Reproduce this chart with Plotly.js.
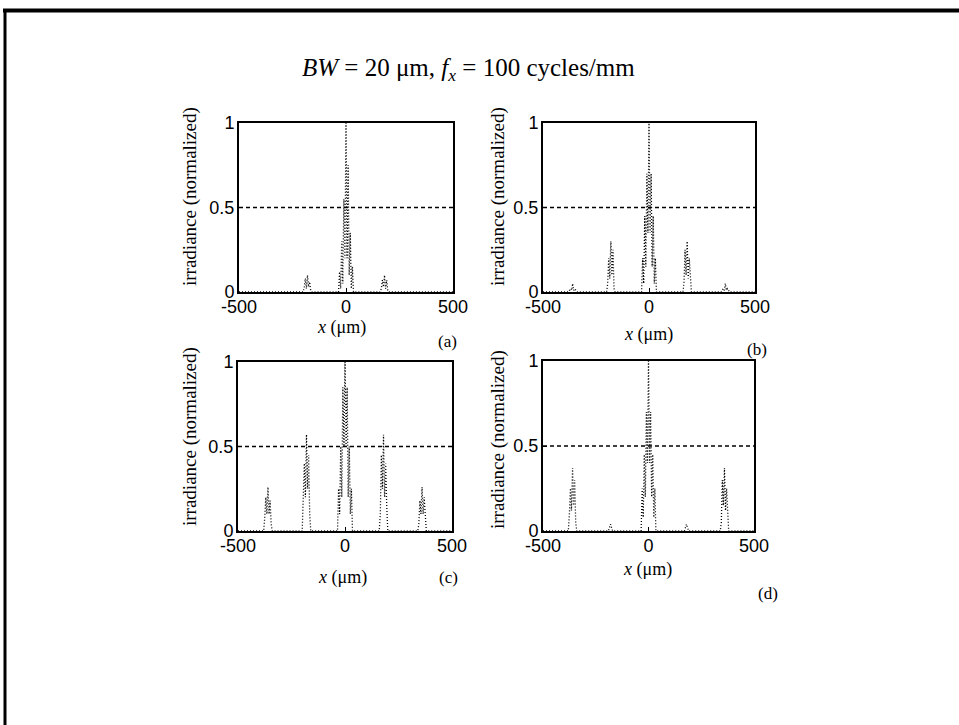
<!DOCTYPE html>
<html>
<head>
<meta charset="utf-8">
<script src="https://cdn.plot.ly/plotly-3.0.1.min.js"></script>
<style>html,body{margin:0;padding:0;background:#fff;}#chart{width:959px;height:725px;}</style>
</head>
<body>
<div id="chart"></div>
<script>
// ---- data ----
const panelLabels = ['(a)', '(b)', '(c)', '(d)'];
const titleText = '<i>BW</i> = 20 μm, <i>f</i><sub><i>x</i></sub> = 100 cycles/mm';
const yTitle = 'irradiance (normalized)';
const xTitle = '<i>x</i> (μm)';
const xTickVals = [-500, 0, 500];
const xTickText = ['-500', '0', '500'];
const yTickVals = [0, 0.5, 1];
const yTickText = ['0', '0.5', '1'];
const thresholdX = [-500, 500];
const thresholdY = [0.5, 0.5];

// panel (a)
const xa = [-500,-200,-195,-190,-185,-180,-175,-170,-165,-160,
            -35,-30,-25,-20,-15,-10,-5,0,5,10,15,20,25,30,35,
            160,165,170,175,180,185,190,195,200,500];
const ya = [0,0,0.03,0.08,0.02,0.10,0.03,0.06,0.01,0,
            0,0.12,0.02,0.30,0.05,0.55,0.20,1.00,0.20,0.75,0.10,0.35,0.02,0.15,0,
            0,0.02,0.07,0.03,0.10,0.02,0.07,0.01,0,0];
// panel (b)
const xb = [-500,-380,-370,-365,-360,-355,-350,-340,
            -200,-195,-190,-185,-180,-175,-170,-165,-160,
            -35,-30,-25,-20,-15,-10,-5,0,5,10,15,20,25,30,35,
            160,165,170,175,180,185,190,195,200,
            340,350,355,360,365,370,380,500];
const yb = [0,0,0.02,0.01,0.05,0.01,0.02,0,
            0,0.05,0.20,0.08,0.30,0.10,0.25,0.02,0,
            0,0.20,0.05,0.45,0.15,0.70,0.35,1.00,0.35,0.70,0.15,0.45,0.05,0.20,0,
            0,0.05,0.25,0.10,0.30,0.08,0.20,0.05,0,
            0,0.02,0.01,0.05,0.01,0.02,0,0];
// panel (c)
const xc = [-500,-380,-375,-370,-365,-360,-355,-350,-345,-340,
            -200,-195,-190,-185,-180,-175,-170,-165,-160,
            -35,-30,-25,-20,-15,-10,-5,0,5,10,15,20,25,30,35,
            160,165,170,175,180,185,190,195,200,
            340,345,350,355,360,365,370,375,380,500];
const yc = [0,0,0.08,0.20,0.10,0.26,0.10,0.18,0.04,0,
            0,0.15,0.40,0.20,0.57,0.25,0.45,0.10,0,
            0,0.25,0.10,0.50,0.20,0.85,0.50,1.00,0.50,0.85,0.20,0.50,0.10,0.25,0,
            0,0.10,0.45,0.25,0.57,0.20,0.40,0.15,0,
            0,0.04,0.18,0.10,0.26,0.10,0.20,0.08,0,0];
// panel (d)
const xd = [-500,-380,-375,-370,-365,-360,-355,-350,-345,-340,
            -190,-185,-180,-175,-170,
            -35,-30,-25,-20,-15,-10,-5,0,5,10,15,20,25,30,35,
            170,175,180,185,190,
            340,345,350,355,360,365,370,375,380,500];
const yd = [0,0,0.10,0.25,0.12,0.37,0.15,0.30,0.05,0,
            0,0.02,0.04,0.02,0,
            0,0.25,0.08,0.45,0.20,0.70,0.40,1.00,0.40,0.70,0.20,0.45,0.08,0.25,0,
            0,0.02,0.04,0.02,0,
            0,0.05,0.30,0.15,0.37,0.12,0.25,0.10,0,0];

const seriesX = [xa, xb, xc, xd];
const seriesY = [ya, yb, yc, yd];

// ---- layout geometry (pixels in a 959x725 page) ----
const W = 959, H = 725;
const boxes = [
  {l: 239, r: 453, t: 123, b: 292},
  {l: 543, r: 755, t: 123, b: 292},
  {l: 238, r: 452, t: 362, b: 531},
  {l: 543, r: 754, t: 361, b: 531}
];
const xTitlePos = [[341, 327], [648, 334], [342, 577], [647, 569]];
const yTitlePos = [[190, 197], [498, 197], [190, 437], [498, 440]];
const labelPos = [[447, 341], [757, 349], [448, 577], [768, 593]];

const px = v => v / W;
const py = v => 1 - v / H;

const serif = 'Liberation Serif, Times New Roman, serif';
const sans = 'Liberation Sans, Arial, sans-serif';

const traces = [];
const layout = {
  width: W, height: H,
  margin: {l: 0, r: 0, t: 0, b: 0},
  paper_bgcolor: '#fff', plot_bgcolor: '#fff',
  showlegend: false,
  annotations: [],
  shapes: []
};

boxes.forEach((bx, i) => {
  const n = i + 1;
  const xk = n === 1 ? 'x' : 'x' + n;
  const yk = n === 1 ? 'y' : 'y' + n;
  const common = {
    showline: true, mirror: true, linewidth: 2, linecolor: '#000',
    showgrid: false, zeroline: false, ticks: 'inside', ticklen: 4,
    tickwidth: 1, tickcolor: '#000', fixedrange: true,
    tickfont: {family: sans, size: 18, color: '#000'}
  };
  layout['xaxis' + (n === 1 ? '' : n)] = Object.assign({}, common, {
    domain: [px(bx.l), px(bx.r)], anchor: yk, range: [-500, 500],
    tickmode: 'array', tickvals: xTickVals, ticktext: xTickText,
    ticklabelstandoff: -3
  });
  layout['yaxis' + (n === 1 ? '' : n)] = Object.assign({}, common, {
    domain: [py(bx.b), py(bx.t)], anchor: xk, range: [0, 1],
    tickmode: 'array', tickvals: yTickVals, ticktext: yTickText,
    ticklabelstandoff: -1
  });
  traces.push({
    x: seriesX[i], y: seriesY[i], xaxis: xk, yaxis: yk,
    type: 'scatter', mode: 'lines', hoverinfo: 'skip',
    line: {color: '#000', width: 1.3, dash: '1px,2px'}
  });
  traces.push({
    x: thresholdX, y: thresholdY, xaxis: xk, yaxis: yk,
    type: 'scatter', mode: 'lines', hoverinfo: 'skip',
    line: {color: '#000', width: 1.6, dash: '4px,3px'}
  });
  layout.annotations.push({
    xref: 'paper', yref: 'paper', x: px(xTitlePos[i][0]), y: py(xTitlePos[i][1]),
    text: xTitle, showarrow: false, xanchor: 'center', yanchor: 'middle',
    font: {family: serif, size: 18, color: '#000'}
  });
  layout.annotations.push({
    xref: 'paper', yref: 'paper', x: px(yTitlePos[i][0]), y: py(yTitlePos[i][1]),
    text: yTitle, showarrow: false, textangle: -90, xanchor: 'center', yanchor: 'middle',
    font: {family: serif, size: 19, color: '#000'}
  });
  layout.annotations.push({
    xref: 'paper', yref: 'paper', x: px(labelPos[i][0]), y: py(labelPos[i][1]),
    text: panelLabels[i], showarrow: false, xanchor: 'center', yanchor: 'middle',
    font: {family: serif, size: 17, color: '#000'}
  });
});

layout.annotations.push({
  xref: 'paper', yref: 'paper', x: px(468), y: py(70),
  text: titleText, showarrow: false, xanchor: 'center', yanchor: 'middle',
  font: {family: serif, size: 25, color: '#000'}
});

// scanned page frame (top and left edges)
layout.shapes.push({type: 'line', xref: 'paper', yref: 'paper',
  x0: px(3), x1: 1, y0: py(10.5), y1: py(10.5), line: {color: '#000', width: 4}});
layout.shapes.push({type: 'line', xref: 'paper', yref: 'paper',
  x0: px(5), x1: px(5), y0: py(9), y1: 0, line: {color: '#000', width: 3}});

Plotly.newPlot('chart', traces, layout, {staticPlot: true, displayModeBar: false});
</script>
</body>
</html>
